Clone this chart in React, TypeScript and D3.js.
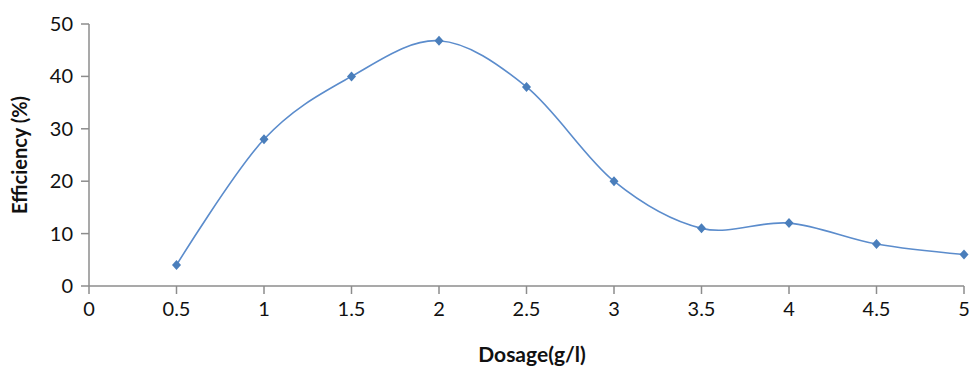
import React from "react";
import * as d3 from "d3";

const dosage = [0.5, 1, 1.5, 2, 2.5, 3, 3.5, 4, 4.5, 5];
const efficiency = [4, 28, 40, 46.8, 38, 20, 11, 12, 8, 6];
const xTicks = [0, 0.5, 1, 1.5, 2, 2.5, 3, 3.5, 4, 4.5, 5];
const yTicks = [0, 10, 20, 30, 40, 50];

export default function App() {
  const W = 972, H = 370;
  const x = d3.scaleLinear().domain([0, 5]).range([89, 964]);
  const y = d3.scaleLinear().domain([0, 50]).range([286, 24]);
  const pts = dosage.map((d, i) => [x(d), y(efficiency[i])] as [number, number]);
  const line = d3.line().curve(d3.curveCardinal.tension(0))(pts) || "";
  const diamond = "M0,-5L4.5,0L0,5L-4.5,0Z";
  const font = "Lato, 'Open Sans', sans-serif";
  const axisCol = "#8c8c8c";
  return (
    <svg width={W} height={H} style={{ position: "absolute", left: 0, top: 0 }}>
      <rect width={W} height={H} fill="#fff" />
      <line x1={89} x2={89} y1={y(50)} y2={y(0)} stroke={axisCol} strokeWidth={1.5} />
      <line x1={89} x2={964} y1={y(0)} y2={y(0)} stroke={axisCol} strokeWidth={1.5} />
      {yTicks.map((t) => (
        <g key={"y" + t}>
          <line x1={81} x2={89} y1={y(t)} y2={y(t)} stroke={axisCol} strokeWidth={1.5} />
          <text x={73} y={y(t)} dy="0.35em" textAnchor="end" fontSize={20} fontFamily={font} fill="#111">{t}</text>
        </g>
      ))}
      {xTicks.map((t) => (
        <g key={"x" + t}>
          <line x1={x(t)} x2={x(t)} y1={286} y2={294} stroke={axisCol} strokeWidth={1.5} />
          <text x={x(t)} y={316} textAnchor="middle" fontSize={20} fontFamily={font} fill="#111">{t}</text>
        </g>
      ))}
      <path d={line} fill="none" stroke="#5b8ccc" strokeWidth={1.6} />
      {pts.map((p, i) => (
        <path key={i} d={diamond} transform={`translate(${p[0]},${p[1]})`} fill="#4a7ebb" />
      ))}
      <text x={532} y={362} textAnchor="middle" fontSize={21} fontWeight="bold" fontFamily={font} fill="#111">Dosage(g/l)</text>
      <text transform={`translate(27,155) rotate(-90)`} textAnchor="middle" fontSize={20} fontWeight="bold" fontFamily={font} fill="#111">Efficiency (%)</text>
    </svg>
  );
}
